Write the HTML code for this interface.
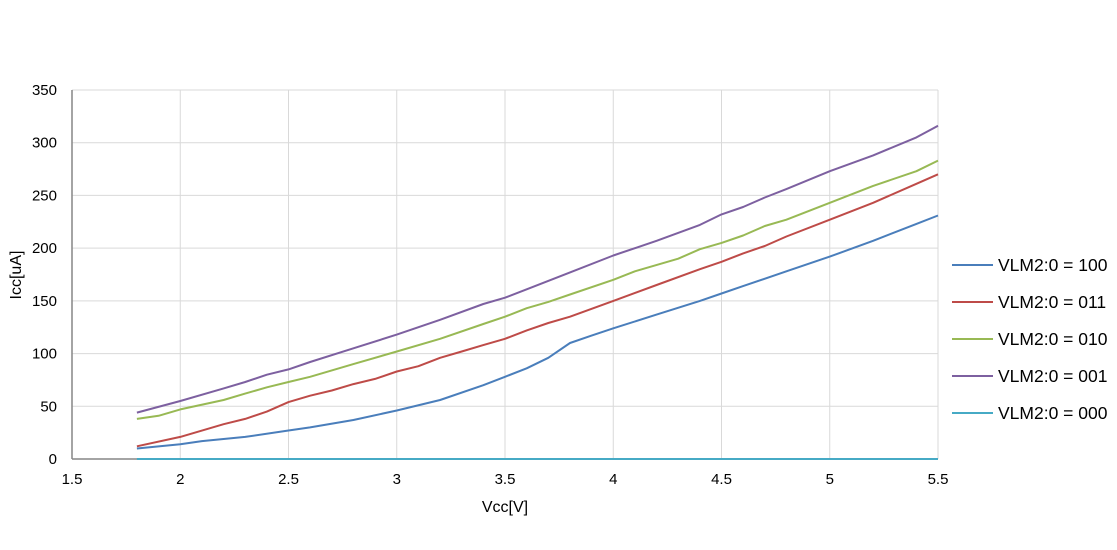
<!DOCTYPE html>
<html><head><meta charset="utf-8"><style>
html,body{margin:0;padding:0;background:#fff;}
svg text{font-family:"Liberation Sans",sans-serif;font-size:15px;fill:#000;}
</style></head><body>
<svg id="c" width="1117" height="545" xmlns="http://www.w3.org/2000/svg">
<g id="grid" stroke="#d9d9d9" stroke-width="1"></g>
<line x1="72" y1="90" x2="72" y2="459" stroke="#868686" stroke-width="1.5"/>
<line x1="72" y1="459" x2="938" y2="459" stroke="#868686" stroke-width="1.5"/>
<g id="labels"></g>
<g id="series" fill="none" stroke-width="2" stroke-linejoin="round"></g>
<text x="505" y="512" text-anchor="middle" style="font-size:16px">Vcc[V]</text>
<text transform="translate(21,275) rotate(-90)" text-anchor="middle" style="font-size:16px">Icc[uA]</text>
<g id="legend"></g>
</svg>
<script>
var NS="http://www.w3.org/2000/svg";
function X(v){return 72+(v-1.5)*216.5;}
function Y(i){return 459-i*1.0543;}
function el(t,a,p,txt){var e=document.createElementNS(NS,t);for(var k in a)e.setAttribute(k,a[k]);if(txt!=null)e.textContent=txt;document.getElementById(p).appendChild(e);return e;}
for(var i=50;i<=350;i+=50)el("line",{x1:72,x2:938,y1:Y(i),y2:Y(i)},"grid");
for(var v=2;v<=5.5;v+=0.5)el("line",{x1:X(v),x2:X(v),y1:90,y2:459},"grid");
for(var i=0;i<=350;i+=50)el("text",{x:57,y:Y(i)+5,"text-anchor":"end"},"labels",i);
for(var v=1.5;v<=5.51;v+=0.5)el("text",{x:X(v),y:484,"text-anchor":"middle"},"labels",String(+v.toFixed(1)));
var S=[
["#4a7ebb",[[1.8,10],[2,14],[2.1,17],[2.3,21],[2.5,27],[2.6,30],[2.8,37],[3,46],[3.2,56],[3.4,70],[3.5,78],[3.6,86],[3.7,96],[3.8,110],[3.9,117],[4,124],[4.2,137],[4.4,150],[4.5,157],[4.6,164],[4.8,178],[5,192],[5.2,207],[5.4,223],[5.5,231]]],
["#be4b48",[[1.8,12],[2,21],[2.2,33],[2.3,38],[2.4,45],[2.5,54],[2.6,60],[2.7,65],[2.8,71],[2.9,76],[3,83],[3.1,88],[3.2,96],[3.3,102],[3.4,108],[3.5,114],[3.6,122],[3.7,129],[3.8,135],[4,150],[4.2,165],[4.4,180],[4.5,187],[4.6,195],[4.7,202],[4.8,211],[5,227],[5.2,243],[5.4,261],[5.5,270]]],
["#98b954",[[1.8,38],[1.9,41],[2,47],[2.2,56],[2.3,62],[2.4,68],[2.5,73],[2.6,78],[2.8,90],[3,102],[3.2,114],[3.4,128],[3.5,135],[3.6,143],[3.7,149],[3.8,156],[4,170],[4.1,178],[4.3,190],[4.4,199],[4.5,205],[4.6,212],[4.7,221],[4.8,227],[5,243],[5.2,259],[5.4,273],[5.5,283]]],
["#7d60a0",[[1.8,44],[2,55],[2.2,67],[2.3,73],[2.4,80],[2.5,85],[2.6,92],[2.8,105],[3,118],[3.2,132],[3.4,147],[3.5,153],[3.6,161],[3.8,177],[4,193],[4.2,207],[4.4,222],[4.5,232],[4.6,239],[4.7,248],[4.8,256],[5,273],[5.2,288],[5.4,305],[5.5,316]]],
["#46aac5",[[1.8,0],[5.5,0]]]
];
var names=["100","011","010","001","000"];
S.forEach(function(s,k){
 el("polyline",{points:s[1].map(function(p){return X(p[0]).toFixed(1)+","+Y(p[1]).toFixed(1);}).join(" "),stroke:s[0]},"series");
 var ly=265+k*37;
 el("line",{x1:952,x2:993,y1:ly,y2:ly,stroke:s[0],"stroke-width":2},"legend");
 el("text",{x:998,y:ly+6,style:"font-size:17.5px"},"legend","VLM2:0 = "+names[k]);
});
</script>
</body></html>
